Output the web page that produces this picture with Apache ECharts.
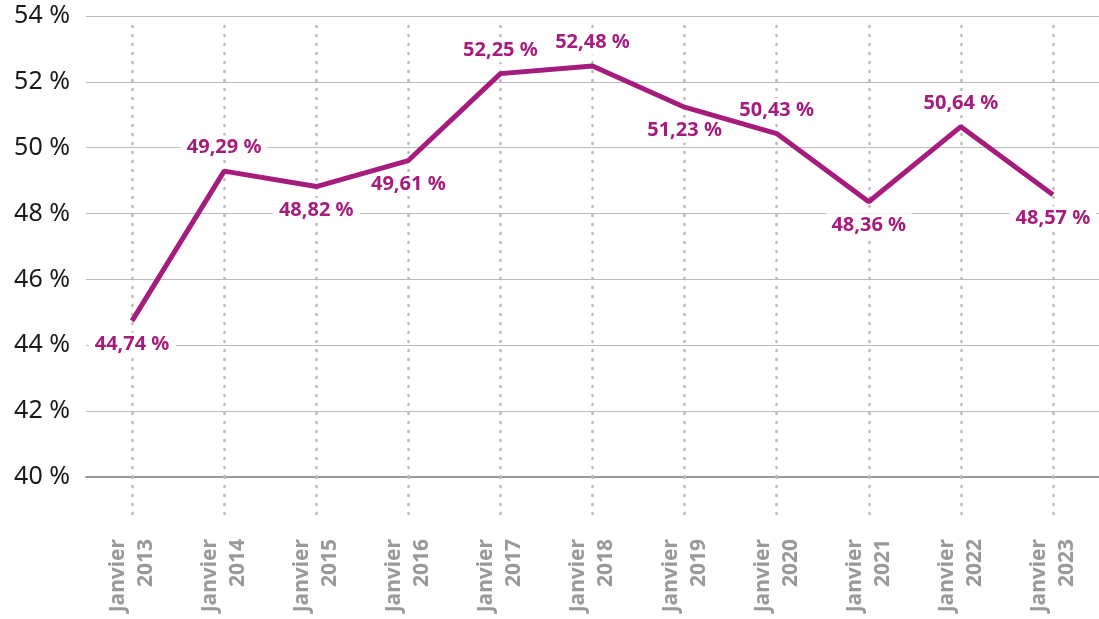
<!DOCTYPE html>
<html>
<head>
<meta charset="utf-8">
<script src="https://cdn.jsdelivr.net/npm/echarts@6/dist/echarts.min.js"></script>
<style>
  html, body { margin: 0; padding: 0; background: #fff; }
  #chart { width: 1099px; height: 619px; }
</style>
</head>
<body>
<div id="chart"></div>
<script>
// données : part en % au mois de janvier
var years = ['2013', '2014', '2015', '2016', '2017', '2018', '2019', '2020', '2021', '2022', '2023']
var values = [44.74, 49.29, 48.82, 49.61, 52.25, 52.48, 51.23, 50.43, 48.36, 50.64, 48.57]
var labelSide = ['bottom', 'top', 'bottom', 'bottom', 'top', 'top', 'bottom', 'top', 'bottom', 'top', 'bottom']
var yTicks = [40, 42, 44, 46, 48, 50, 52, 54]

var purple = '#a51c7c'
var categories = years.map(function (y) { return 'Janvier\n' + y })

function fmt (v) {
  return v.toFixed(2).replace('.', ',') + ' %'
}

var chart = echarts.init(document.getElementById('chart'))

var dotted = { color: '#bbb', type: [1, 8], width: 2.5, cap: 'round' }

var option = {
  animation: false,
  grid: {
    left: 86,
    right: -4,
    top: 16,
    bottom: 142
  },
  xAxis: [{
    type: 'category',
    data: categories,
    boundaryGap: true,
    axisLine: { show: true, lineStyle: { color: '#999', width: 2 } },
    axisTick: {
      show: true,
      alignWithLabel: true,
      length: 43,
      lineStyle: dotted
    },
    axisLabel: {
      rotate: 90,
      margin: 62,
      color: '#999',
      fontSize: 21,
      fontWeight: 'bold',
      fontFamily: 'Noto Sans',
      lineHeight: 28
    },
    splitLine: { show: false }
  }, {
    type: 'category',
    data: categories,
    position: 'bottom',
    boundaryGap: true,
    axisLine: { show: false },
    axisTick: {
      show: true,
      inside: true,
      alignWithLabel: true,
      length: 459,
      lineStyle: dotted
    },
    axisLabel: { show: false },
    splitLine: { show: false }
  }],
  yAxis: {
    type: 'value',
    min: yTicks[0],
    max: yTicks[yTicks.length - 1],
    interval: 2,
    axisLine: { show: false },
    axisTick: { show: false },
    axisLabel: {
      margin: 16,
      color: '#1a1a1a',
      fontSize: 25,
      fontFamily: 'Noto Sans',
      formatter: '{value} %'
    },
    splitLine: { lineStyle: { color: '#bbb', width: 1 } }
  },
  series: [{
    // étiquettes seules, sous la courbe
    type: 'line',
    xAxisIndex: 0,
    data: values.map(function (v, i) {
      return {
        value: v,
        label: { position: labelSide[i] }
      }
    }),
    symbol: 'circle',
    symbolSize: 1,
    showSymbol: true,
    z: 1,
    silent: true,
    lineStyle: { width: 0, color: 'rgba(0,0,0,0)' },
    itemStyle: { color: 'rgba(0,0,0,0)' },
    label: {
      show: true,
      distance: 11,
      color: purple,
      fontSize: 20,
      fontWeight: 'bold',
      fontFamily: 'Noto Sans',
      backgroundColor: '#fff',
      padding: [2, 6],
      formatter: function (p) { return fmt(p.value) }
    }
  }, {
    type: 'line',
    xAxisIndex: 0,
    data: values,
    symbol: 'none',
    z: 5,
    lineStyle: { color: purple, width: 5 },
    itemStyle: { color: purple }
  }]
}

chart.setOption(option)
</script>
</body>
</html>
